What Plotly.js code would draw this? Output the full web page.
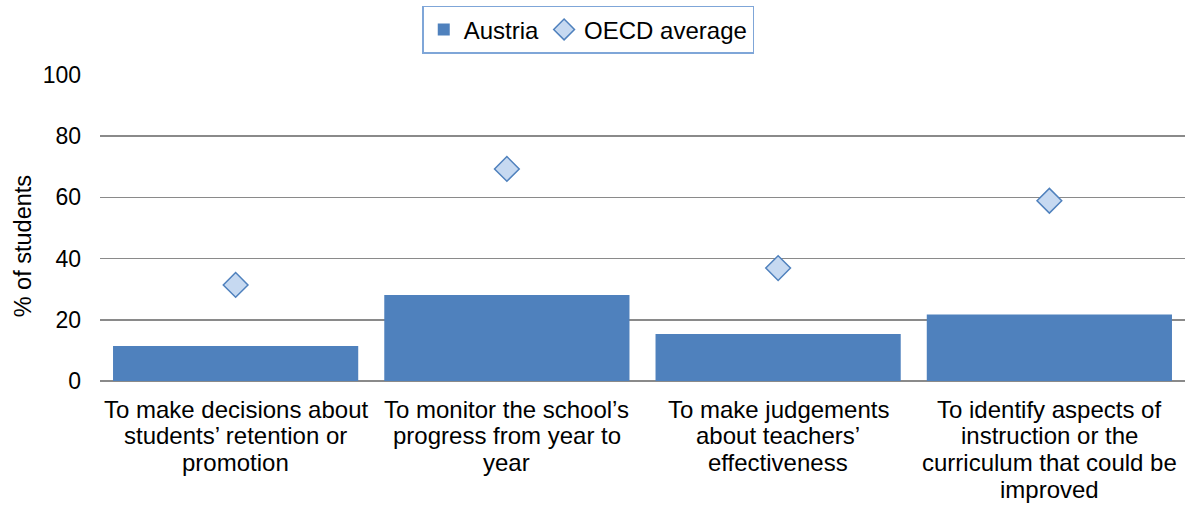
<!DOCTYPE html>
<html>
<head>
<meta charset="utf-8">
<script src="https://cdn.plot.ly/plotly-3.0.1.min.js"></script>
<style>html,body{margin:0;padding:0;background:#fff;}#chart{width:1189px;height:506px;}</style>
</head>
<body>
<div id="chart"></div>
<script>
var categories = [
  "To make decisions about<br>students’ retention or<br>promotion",
  "To monitor the school’s<br>progress from year to<br>year",
  "To make judgements<br>about teachers’<br>effectiveness",
  "To identify aspects of<br>instruction or the<br>curriculum that could be<br>improved"
];
var austria = [11.4, 28.1, 15.4, 21.7];
var oecd = [31.4, 69.3, 36.9, 58.9];
var yTicks = [0, 20, 40, 60, 80, 100];
var yTitle = '% of students';

var FONT = 'Liberation Sans, Arial, sans-serif';
var FS = 24;

var traces = [
  {
    type: 'bar', name: 'Austria', x: categories, y: austria,
    marker: {color: '#4f81bd', line: {width: 0}}
  },
  {
    type: 'scatter', mode: 'markers', name: 'OECD average', x: categories, y: oecd,
    marker: {symbol: 'diamond', size: 19, color: '#c6d9f1', line: {color: '#4f81bd', width: 1.5}}
  }
];

// category labels: one annotation per line so line spacing matches the reference
var annotations = [];
categories.forEach(function (cat) {
  cat.split('<br>').forEach(function (line, k) {
    annotations.push({
      x: cat, y: 0, xref: 'x', yref: 'y',
      text: line, showarrow: false,
      xanchor: 'center', yanchor: 'middle',
      yshift: -28 - 26.8 * k,
      font: {family: FONT, size: FS, color: '#000'}
    });
  });
});
// y axis title
annotations.push({
  x: -0.071, y: 0.44, xref: 'paper', yref: 'paper',
  text: yTitle, showarrow: false, textangle: -90,
  xanchor: 'center', yanchor: 'middle',
  font: {family: FONT, size: 23.5, color: '#000'}
});

var layout = {
  width: 1189, height: 506,
  margin: {l: 100, r: 4, t: 75, b: 125},
  paper_bgcolor: '#fff', plot_bgcolor: '#fff',
  font: {family: FONT, size: FS, color: '#000'},
  bargap: 0.096,
  showlegend: true,
  legend: {
    orientation: 'h', x: 0.45, xanchor: 'center', y: 1.226, yanchor: 'top',
    bordercolor: '#7fa6d8', borderwidth: 1.5, bgcolor: '#fff',
    font: {family: FONT, size: FS, color: '#000'}, itemwidth: 30
  },
  xaxis: {
    type: 'category', showgrid: false, showline: false, ticks: '',
    showticklabels: false, automargin: false
  },
  yaxis: {
    range: [0, 100], tickvals: yTicks, ticktext: yTicks.map(String),
    showgrid: true, gridcolor: '#8a8a8a', gridwidth: 1.5,
    zeroline: true, zerolinecolor: '#8a8a8a', zerolinewidth: 2,
    showline: false, ticks: '', ticklabelstandoff: 18,
    tickfont: {family: FONT, size: 23, color: '#000'}, automargin: false
  },
  annotations: annotations
};

Plotly.newPlot('chart', traces, layout, {displayModeBar: false, staticPlot: true});
</script>
</body>
</html>
